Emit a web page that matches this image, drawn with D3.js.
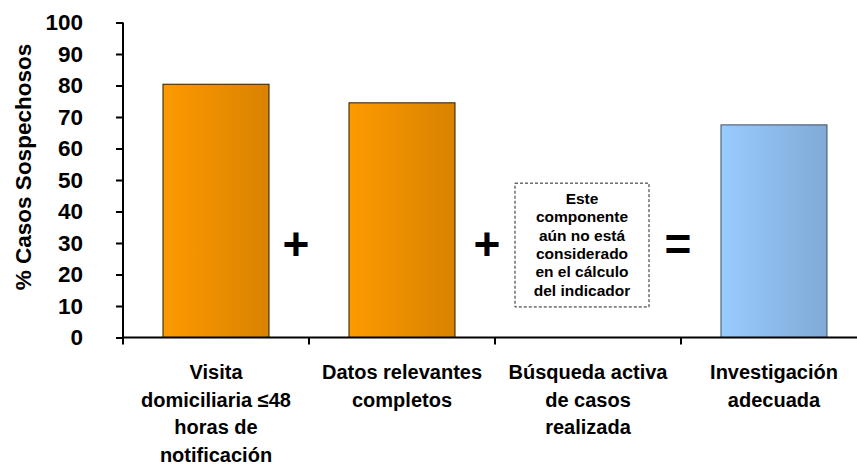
<!DOCTYPE html>
<html>
<head>
<meta charset="utf-8">
<script src="https://cdn.jsdelivr.net/npm/d3@7"></script>
<style>
    html, body { margin: 0; padding: 0; background: #fff; }
    svg { display: block; font-family: 'Liberation Sans', Arial, sans-serif; font-weight: bold; }
</style>
</head>
<body>
<div id="chart"></div>
<script>
var categories = [
    ['Visita', 'domiciliaria \u226448', 'horas de', 'notificaci\u00f3n'],
    ['Datos relevantes', 'completos'],
    ['B\u00fasqueda activa', 'de casos', 'realizada'],
    ['Investigaci\u00f3n', 'adecuada']
];
var values = [80.4, 74.5, null, 67.5];
var barKind = ['orange', 'orange', null, 'blue'];
var yTicks = [0, 10, 20, 30, 40, 50, 60, 70, 80, 90, 100];
var operators = ['+', '+', '='];
var noteLines = ['Este', 'componente', 'a\u00fan no est\u00e1', 'considerado', 'en el c\u00e1lculo', 'del indicador'];

var width = 857, height = 464;

var svg = d3.select('#chart').append('svg')
    .attr('width', width)
    .attr('height', height);

// Gradients
var defs = svg.append('defs');
function gradient(id, from, to) {
    let g = defs.append('linearGradient').attr('id', id)
        .attr('x1', '0%').attr('x2', '100%').attr('y1', '0%').attr('y2', '0%');
    g.append('stop').attr('offset', '0%').attr('stop-color', from);
    g.append('stop').attr('offset', '100%').attr('stop-color', to);
}
gradient('grad-orange', '#fd9a00', '#d98200');
gradient('grad-blue', '#99ccff', '#80aad6');

// Scales
var x = d3.scaleBand()
    .domain(d3.range(categories.length))
    .range([123, 867])
    .padding(0);

var y = d3.scaleLinear()
    .domain([0, 100])
    .range([337.5, 22.5]);

var barW = x.bandwidth() * 0.57;

// Bars
svg.append('g').selectAll('rect')
    .data(values.map((v, i) => ({ v: v, i: i })).filter(d => d.v !== null))
    .enter().append('rect')
    .attr('x', d => x(d.i) + (x.bandwidth() - barW) / 2)
    .attr('y', d => y(d.v))
    .attr('width', barW)
    .attr('height', d => y(0) - y(d.v))
    .attr('fill', d => 'url(#grad-' + barKind[d.i] + ')')
    .attr('stroke', d => barKind[d.i] === 'blue' ? '#3d4f66' : '#2a1a00')
    .attr('stroke-width', 1);

// Y axis
var yAxis = svg.append('g')
    .attr('transform', 'translate(123,0)')
    .call(d3.axisLeft(y).tickValues(yTicks).tickSize(7).tickPadding(33));
yAxis.select('.domain').attr('d', 'M0,' + y(100) + 'V' + (y(0) + 7));
yAxis.selectAll('line, path').attr('stroke', '#000').attr('stroke-width', 2);
yAxis.selectAll('text')
    .attr('font-size', 22.5)
    .attr('font-weight', 'bold')
    .attr('font-family', "'Liberation Sans', Arial, sans-serif")
    .attr('fill', '#000');

// X axis
var xAxis = svg.append('g').attr('transform', 'translate(0,' + y(0) + ')');
xAxis.append('line')
    .attr('x1', 123).attr('x2', 867)
    .attr('stroke', '#000').attr('stroke-width', 2);
xAxis.selectAll('.tick')
    .data(d3.range(1, categories.length + 1))
    .enter().append('line')
    .attr('x1', d => 123 + d * x.step()).attr('x2', d => 123 + d * x.step())
    .attr('y1', 0).attr('y2', 7)
    .attr('stroke', '#000').attr('stroke-width', 2);

// Category labels
var labels = svg.append('g').selectAll('text')
    .data(categories)
    .enter().append('text')
    .attr('text-anchor', 'middle')
    .attr('font-size', 20)
    .attr('fill', '#000');
labels.each(function(lines, i) {
    d3.select(this).selectAll('tspan')
        .data(lines)
        .enter().append('tspan')
        .attr('x', x(i) + x.bandwidth() / 2)
        .attr('y', (d, k) => 379 + k * 27.5)
        .text(d => d);
});

// Y title
svg.append('text')
    .attr('transform', 'translate(31,167) rotate(-90)')
    .attr('text-anchor', 'middle')
    .attr('font-size', 22.5)
    .attr('fill', '#000')
    .text('% Casos Sospechosos');

// Operators between components
var opOffsets = [-13, -8, -3];
svg.append('g').selectAll('text')
    .data(operators)
    .enter().append('text')
    .attr('x', (d, i) => x(i + 1) + opOffsets[i])
    .attr('y', y(30) + 17)
    .attr('text-anchor', 'middle')
    .attr('font-size', 46)
    .attr('font-weight', 900)
    .attr('fill', '#000')
    .text(d => d);

// Note box for the missing component
var boxW = 134, boxCx = x(2) + x.bandwidth() / 2 - 6;
var note = svg.append('g');
note.append('rect')
    .attr('x', boxCx - boxW / 2)
    .attr('y', y(49))
    .attr('width', boxW)
    .attr('height', y(9.7) - y(49))
    .attr('fill', '#fff')
    .attr('stroke', '#222')
    .attr('stroke-width', 1)
    .attr('stroke-dasharray', '3,2');
note.append('text')
    .attr('text-anchor', 'middle')
    .attr('font-size', 15.5)
    .attr('fill', '#000')
    .selectAll('tspan')
    .data(noteLines)
    .enter().append('tspan')
    .attr('x', boxCx)
    .attr('y', (d, k) => y(49) + 21 + k * 18.3)
    .text(d => d);
</script>
</body>
</html>
